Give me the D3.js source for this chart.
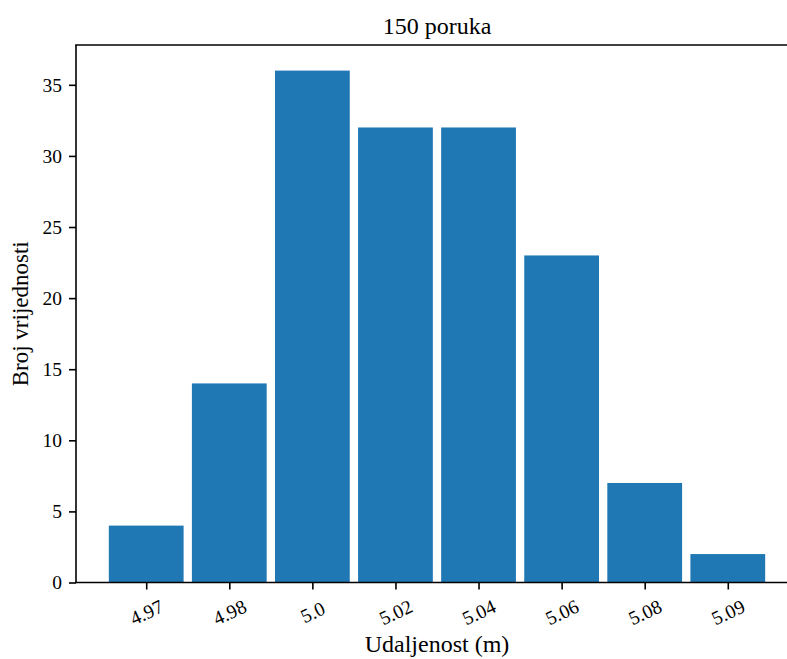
<!DOCTYPE html>
<html>
<head>
<meta charset="utf-8">
<script src="https://cdn.jsdelivr.net/npm/d3@7"></script>
<style>
  html, body { margin: 0; padding: 0; background: #fff; }
  svg { display: block; }
  text { font-family: "Liberation Serif", "DejaVu Serif", serif; fill: #000; }
</style>
</head>
<body>
<svg id="chart" width="787" height="659"></svg>
<script>
const categories = ["4.97", "4.98", "5.0", "5.02", "5.04", "5.06", "5.08", "5.09"];
const counts = [4, 14, 36, 32, 32, 23, 7, 2];
const yTicks = [0, 5, 10, 15, 20, 25, 30, 35];
const titleText = "150 poruka";
const xLabelText = "Udaljenost (m)";
const yLabelText = "Broj vrijednosti";

const svg = d3.select("#chart");
const L = 76, R = 798, T = 45, B = 582.5;
const serif = "'Liberation Serif', 'DejaVu Serif', serif";

const x = d3.scaleLinear().domain([-0.845, categories.length - 1 + 0.845]).range([L, R]);
const y = d3.scaleLinear().domain([0, 37.8]).range([B, T]);
const barW = 0.9;

svg.append("g").selectAll("rect").data(counts).join("rect")
  .attr("x", (d, i) => x(i - barW / 2))
  .attr("width", (d, i) => x(i + barW / 2) - x(i - barW / 2))
  .attr("y", d => y(d))
  .attr("height", d => y(0) - y(d))
  .attr("fill", "#1f77b4");

// spines
const sp = svg.append("g").attr("stroke", "#000").attr("stroke-width", 1.6).attr("fill", "none");
sp.append("line").attr("x1", L).attr("x2", L).attr("y1", T).attr("y2", B);
sp.append("line").attr("x1", L - 0.8).attr("x2", R).attr("y1", B).attr("y2", B);
sp.append("line").attr("x1", L - 0.8).attr("x2", R).attr("y1", T).attr("y2", T);
sp.append("line").attr("x1", R).attr("x2", R).attr("y1", T).attr("y2", B);

// y axis
const yAxis = d3.axisLeft(y).tickValues(yTicks).tickSize(7).tickPadding(7).tickFormat(d3.format("d"));
const gy = svg.append("g").attr("transform", `translate(${L},0)`).call(yAxis)
  .attr("font-family", serif);
gy.select(".domain").remove();
gy.selectAll(".tick line").attr("stroke", "#000").attr("stroke-width", 1.6);
gy.selectAll(".tick text").attr("font-size", 19.5).attr("font-family", serif).attr("fill", "#000");

// x axis (categorical positions)
const xAxis = d3.axisBottom(x).tickValues(d3.range(categories.length)).tickSize(7)
  .tickFormat(i => categories[i]);
const gx = svg.append("g").attr("transform", `translate(0,${B})`).call(xAxis)
  .attr("font-family", serif);
gx.select(".domain").remove();
gx.selectAll(".tick line").attr("stroke", "#000").attr("stroke-width", 1.6);
gx.selectAll(".tick text")
  .attr("font-size", 19.5).attr("font-family", serif).attr("fill", "#000")
  .attr("y", null).attr("dy", null)
  .attr("text-anchor", "middle").attr("dominant-baseline", "central")
  .attr("transform", "translate(0,30) rotate(-25)");

// title and labels
svg.append("text").attr("x", (L + R) / 2).attr("y", 34).attr("text-anchor", "middle")
  .attr("font-size", 24).text(titleText);
svg.append("text").attr("x", (L + R) / 2).attr("y", 652).attr("text-anchor", "middle")
  .attr("font-size", 24).text(xLabelText);
svg.append("text").attr("transform", `translate(28,${(T + B) / 2}) rotate(-90)`)
  .attr("text-anchor", "middle").attr("font-size", 23).text(yLabelText);
</script>
</body>
</html>
